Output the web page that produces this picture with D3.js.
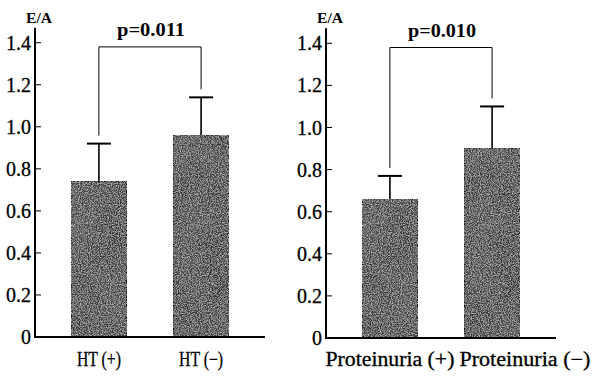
<!DOCTYPE html>
<html>
<head>
<meta charset="utf-8">
<script src="https://cdn.jsdelivr.net/npm/d3@7"></script>
<style>
  body { margin: 0; background: #fff; }
  text { font-family: "Liberation Serif", "Times New Roman", serif; fill: #000; }
</style>
</head>
<body>
<div id="chart"></div>
<script>
// values
var yTicks = [0, 0.2, 0.4, 0.6, 0.8, 1.0, 1.2, 1.4];
var yTickLabels = ["0", "0.2", "0.4", "0.6", "0.8", "1.0", "1.2", "1.4"];

var htGroups = ["HT (+)", "HT (\u2212)"];
var htMeans = [0.74, 0.96];
var htSD = [0.18, 0.18];
var htP = "p=0.011";

var protGroups = ["Proteinuria (+)", "Proteinuria (\u2212)"];
var protMeans = [0.66, 0.90];
var protSD = [0.11, 0.20];
var protP = "p=0.010";

var bracketLevel = 1.38;

//svg
var svg = d3.select('#chart')
  .append('svg')
  .attr('width', 593)
  .attr('height', 376);

// grain for the bars
var defs = svg.append('defs');
var f = defs.append('filter').attr('id', 'grain')
  .attr('x', 0).attr('y', 0).attr('width', '100%').attr('height', '100%');
f.append('feTurbulence').attr('type', 'fractalNoise').attr('baseFrequency', 0.03)
  .attr('numOctaves', 2).attr('seed', 7).attr('result', 'cloud');
f.append('feColorMatrix').attr('in', 'cloud').attr('type', 'matrix')
  .attr('values', '0 0 0 0 0  0 0 0 0 0  0 0 0 0 0  1.2 0 0 0 -0.45')
  .attr('result', 'shade');
f.append('feTurbulence').attr('type', 'fractalNoise').attr('baseFrequency', 0.9)
  .attr('numOctaves', 2).attr('seed', 4).attr('result', 'n');
f.append('feColorMatrix').attr('in', 'n').attr('type', 'matrix')
  .attr('values', '0 0 0 0 0.75  0 0 0 0 0.75  0 0 0 0 0.75  1.5 0 0 0 -0.6')
  .attr('result', 'speck');
var merge = f.append('feMerge').attr('result', 'all');
merge.append('feMergeNode').attr('in', 'SourceGraphic');
merge.append('feMergeNode').attr('in', 'shade');
merge.append('feMergeNode').attr('in', 'speck');
f.append('feComposite').attr('in', 'all').attr('in2', 'SourceGraphic').attr('operator', 'in');

function panel(left, base, top, groups, means, sd, pText, labelWidths) {
  var g = svg.append('g').attr('transform', 'translate(' + left + ',0)');

  var y = d3.scaleLinear().domain([0, 1.4]).range([base, top]);
  var x = d3.scaleBand().domain(groups).range([22, 208])
    .paddingInner(0.46).paddingOuter(0.14);

  // bars
  g.selectAll('rect.bar')
    .data(groups)
    .enter().append('rect')
    .attr('class', 'bar')
    .attr('x', function(d) { return x(d); })
    .attr('y', function(d, i) { return y(means[i]); })
    .attr('width', x.bandwidth())
    .attr('height', function(d, i) { return y(0) - y(means[i]); })
    .attr('fill', '#444')
    .attr('stroke', '#111')
    .attr('stroke-width', 1)
    .attr('filter', 'url(#grain)');

  // error bars (upper only)
  var cx = function(d) { return x(d) + x.bandwidth() / 2; };
  g.selectAll('line.err')
    .data(groups)
    .enter().append('line')
    .attr('class', 'err')
    .attr('x1', cx).attr('x2', cx)
    .attr('y1', function(d, i) { return y(means[i]); })
    .attr('y2', function(d, i) { return y(means[i] + sd[i]); })
    .attr('stroke', '#000').attr('stroke-width', 1.6);
  g.selectAll('line.cap')
    .data(groups)
    .enter().append('line')
    .attr('class', 'cap')
    .attr('x1', function(d) { return cx(d) - 12; })
    .attr('x2', function(d) { return cx(d) + 12; })
    .attr('y1', function(d, i) { return y(means[i] + sd[i]); })
    .attr('y2', function(d, i) { return y(means[i] + sd[i]); })
    .attr('stroke', '#000').attr('stroke-width', 2);

  // significance bracket
  var by = y(bracketLevel);
  var path = d3.path();
  path.moveTo(cx(groups[0]), y(means[0] + sd[0]) - 8);
  path.lineTo(cx(groups[0]), by);
  path.lineTo(cx(groups[1]), by);
  path.lineTo(cx(groups[1]), y(means[1] + sd[1]) - 8);
  g.append('path').attr('d', path.toString())
    .attr('fill', 'none').attr('stroke', '#000').attr('stroke-width', 1);

  g.append('text')
    .attr('x', (cx(groups[0]) + cx(groups[1])) / 2 + 1)
    .attr('y', by - 11)
    .attr('text-anchor', 'middle')
    .attr('font-size', 19)
    .attr('font-weight', 'bold')
    .attr('textLength', 68)
    .attr('lengthAdjust', 'spacingAndGlyphs')
    .text(pText);

  // axes
  g.append('line')
    .attr('x1', 0).attr('x2', 0).attr('y1', base).attr('y2', top - 15)
    .attr('stroke', '#000').attr('stroke-width', 2);
  g.append('line')
    .attr('x1', -1).attr('x2', 230).attr('y1', base).attr('y2', base)
    .attr('stroke', '#000').attr('stroke-width', 2);

  // inward ticks
  g.selectAll('line.tk')
    .data(yTicks.slice(1))
    .enter().append('line')
    .attr('class', 'tk')
    .attr('x1', 0).attr('x2', 6)
    .attr('y1', function(d) { return y(d); })
    .attr('y2', function(d) { return y(d); })
    .attr('stroke', '#000').attr('stroke-width', 1);

  g.selectAll('text.tick')
    .data(yTicks)
    .enter().append('text')
    .attr('class', 'tick')
    .attr('x', -4)
    .attr('y', function(d) { return y(d); })
    .attr('dy', '0.35em')
    .attr('text-anchor', 'end')
    .attr('font-size', 20)
    .attr('stroke', '#000').attr('stroke-width', 0.3)
    .text(function(d, i) { return yTickLabels[i]; });

  g.append('text')
    .attr('x', -9).attr('y', 23)
    .attr('font-size', 15)
    .attr('font-weight', 'bold')
    .attr('textLength', 26)
    .attr('lengthAdjust', 'spacingAndGlyphs')
    .text('E/A');

  // group labels
  g.append('text')
    .attr('x', cx(groups[0]))
    .attr('y', 366)
    .attr('text-anchor', 'middle')
    .attr('font-size', 20)
    .attr('stroke', '#000').attr('stroke-width', 0.3)
    .attr('textLength', labelWidths[0])
    .attr('lengthAdjust', 'spacingAndGlyphs')
    .text(groups[0]);
  var x2 = labelWidths.length > 2 ? cx(groups[0]) + labelWidths[0] / 2 + labelWidths[2] + labelWidths[1] / 2
                                  : cx(groups[1]);
  g.append('text')
    .attr('x', x2)
    .attr('y', 366)
    .attr('text-anchor', 'middle')
    .attr('font-size', 20)
    .attr('stroke', '#000').attr('stroke-width', 0.3)
    .attr('textLength', labelWidths[1])
    .attr('lengthAdjust', 'spacingAndGlyphs')
    .text(groups[1]);
}

panel(35, 337, 42.7, htGroups, htMeans, htSD, htP, [44, 44]);
panel(326, 338, 43.3, protGroups, protMeans, protSD, protP, [129, 131, 5]);
</script>
</body>
</html>
